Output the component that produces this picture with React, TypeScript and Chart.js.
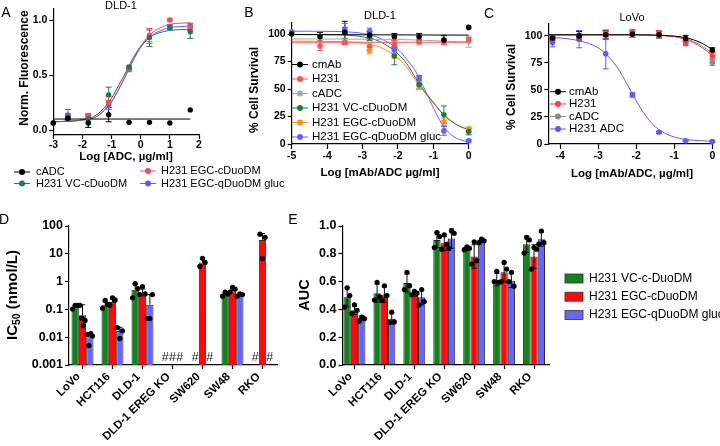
import React, { useEffect, useRef } from "react";
import { Chart, registerables } from "chart.js";
Chart.register(...registerables);

const W = 720;
const H = 446;
const FONT = "'Liberation Sans', Arial, Helvetica, sans-serif";

// ---------- colours ----------
const BLACK = "#000000";
const A_GREEN = "#1e7a52";
const A_RED = "#ff4a4a";
const A_BLUE = "#5c5cff";
const B_RED = "#ff5252";
const B_GRAY = "#a8a8a8";
const B_GREEN = "#1f7a4f";
const B_ORANGE = "#ff8c1a";
const B_BLUE = "#6262ff";
const C_RED = "#ff3d3d";
const C_GRAY = "#8a8a8a";
const C_BLUE = "#5c5cf2";
const D_GREEN = "#14821a";
const D_RED = "#ff0a0a";
const D_BLUE = "#6666ff";

// ---------- Panel A (DLD-1, Norm. Fluorescence) ----------
const A_X = [-3, -2.5, -1.8, -1.1, -0.4, 0.3, 1.0, 1.7];
const A_cADC = [0.064, 0.107, 0.064, 0.14, 0.07, 0.07, 0.064, 0.183];
const A_cADC_SD = [0, 0.01, 0.04, 0.065, 0, 0, 0, 0];
const A_VC = [0.065, 0.12, 0.1, 0.32, 0.573, 0.84, 0.933, 0.893];
const A_VC_SD = [0, 0.02, 0.03, 0.07, 0.01, 0.08, 0.02, 0.06];
const A_EGCc = [0.065, 0.12, 0.13, 0.253, 0.558, 0.863, 1.0, 0.933];
const A_EGCc_SD = [0, 0.03, 0.02, 0.05, 0.01, 0.06, 0.01, 0.03];
const A_EGCq = [0.065, 0.137, 0.122, 0.229, 0.549, 0.848, 0.94, 0.94];
const A_EGCq_SD = [0, 0.05, 0.02, 0.04, 0.01, 0.06, 0.02, 0.03];
const A_FIT_X = [-3, -2.5, -2, -1.5, -1, -0.75, -0.5, -0.25, 0, 0.25, 0.5, 1, 1.7];
const A_FIT_VC = [0.075, 0.08, 0.095, 0.14, 0.29, 0.41, 0.53, 0.66, 0.76, 0.83, 0.87, 0.905, 0.915];
const A_FIT_EGCc = [0.075, 0.08, 0.09, 0.125, 0.26, 0.38, 0.51, 0.645, 0.76, 0.85, 0.905, 0.96, 0.975];
const A_FIT_EGCq = [0.075, 0.08, 0.09, 0.125, 0.255, 0.37, 0.5, 0.635, 0.75, 0.83, 0.88, 0.93, 0.945];
const A_FLAT_X = [-3, 1.7];
const A_FIT_cADC = [0.1, 0.1];
const A_XTICKS = [-3, -2, -1, 0, 1, 2];
const A_YTICKS = [0, 0.5, 1.0];

// ---------- Panel B (DLD-1, % Cell Survival) ----------
const B_X = [-5, -4.2, -3.5, -2.8, -2.1, -1.4, -0.7, 0];
const B_cmAb = [100, 97.5, 101.5, 99, 97.5, 97.5, 94.5, 106];
const B_cmAb_SD = [0, 4, 10, 3, 3, 3, 4, 0];
const B_H231 = [null, 89, 92.4, 88.7, 91, 93, 92.4, 94.8];
const B_H231_SD = [0, 4, 2, 3, 3, 2, 2, 2];
const B_cADC = [null, null, null, null, null, null, 93, 93];
const B_cADC_SD = [0, 0, 0, 0, 0, 0, 3, 5];
const B_VC = [null, null, 101, 97, 80, 54, 26.6, 11.3];
const B_VC_SD = [0, 0, 5, 3, 8, 4, 8, 3];
const B_EGCc = [null, null, null, 85, 81, 53, 19.9, 13.5];
const B_EGCc_SD = [0, 0, 0, 3, 3, 3, 3, 2];
const B_EGCq = [102, null, 104.6, 102.4, 85.6, 60.3, 11.9, 2.8];
const B_EGCq_SD = [0, 0, 5, 3, 3, 2, 4, 1];
const B_FIT_X = [-5, -4.5, -4, -3.5, -3, -2.5, -2, -1.75, -1.5, -1.25, -1, -0.75, -0.5, -0.25, 0];
const B_FIT_VC = [99.5, 99.5, 99.4, 99, 97.5, 93, 82, 73, 60, 48, 38, 28, 21, 16, 13];
const B_FIT_EGCc = [93.5, 93.5, 93.3, 93, 91.5, 88, 78, 70, 58, 47, 37, 28, 21, 16, 13.5];
const B_FIT_EGCq = [102.5, 102.5, 102.4, 102, 100.5, 96, 86, 77, 66, 50, 33, 18, 8.5, 4, 2];
const B_FLAT_X = [-5, -2, 0];
const B_FIT_cmAb = [99.5, 99.2, 99];
const B_FIT_H231 = [92.5, 92.5, 92.5];
const B_FIT_cADC = [95.5, 95, 92.5];
const B_XTICKS = [-5, -4, -3, -2, -1, 0];
const B_YTICKS = [0, 25, 50, 75, 100];

// ---------- Panel C (LoVo) ----------
const C_X = [-4.2, -3.5, -2.8, -2.1, -1.4, -0.7, 0];
const C_cmAb = [98, 100, 101, 101.5, 101, 97.5, 87];
const C_cmAb_SD = [2, 4, 4, 3, 3, 3, 2];
const C_H231 = [98, 99.5, 102.5, 103, 102, 93, 81.6];
const C_H231_SD = [1, 2, 3, 3, 3, 2, 3];
const C_cADC = [98, 100, 101, 101.5, 101, 95, 75.5];
const C_cADC_SD = [1, 2, 3, 3, 3, 2, 3];
const C_ADC = [93.9, 97, 83.5, 45.4, 10.8, 3, 2.3];
const C_ADC_SD = [4, 8, 14, 2, 1, 0.5, 0.5];
const C_FIT_X = [-4.31, -4, -3.5, -3, -2.75, -2.5, -2.25, -2, -1.75, -1.5, -1.25, -1, -0.75, -0.5, -0.25, 0];
const C_FIT_ADC = [98.5, 98, 95.5, 89, 81.5, 71, 56, 40, 26, 16, 10, 6.5, 4.5, 3.5, 3, 2.5];
const C_FLAT_X = [-4.31, -2, -1.5, -1, -0.75, -0.5, -0.25, 0];
const C_FIT_cmAb = [101, 101, 100.7, 99.8, 98.6, 96.5, 92.8, 87.5];
const C_FIT_H231 = [101, 101, 100.5, 99.3, 97.2, 93.8, 88.8, 82];
const C_FIT_cADC = [101, 101, 100.6, 99.5, 97.8, 95, 90, 84];
const C_XTICKS = [-4, -3, -2, -1, 0];
const C_YTICKS = [0, 25, 50, 75, 100];

// ---------- Panels D and E (bar charts) ----------
const CELL_LINES = ["LoVo", "HCT116", "DLD-1", "DLD-1 EREG KO", "SW620", "SW48", "RKO"];
const D_VC = [0.12, 0.148, 0.51, null, null, 0.33, null];
const D_VC_SD = [0.02, 0.05, 0.3, 0, 0, 0.06, 0];
const D_VC_DOTS = [[0.103, 0.14, 0.14], [0.11, 0.21, 0.15], [0.26, 0.84, 0.56], null, null, [0.3, 0.42, 0.36], null];
const D_EGCc = [0.062, 0.185, 0.37, null, 4.9, 0.45, 31.6];
const D_EGCc_SD = [0.085, 0.05, 0.17, 0, 1.7, 0.1, 22];
const D_EGCc_DOTS = [[0.14, 0.049, 0.026, 0.04], [0.14, 0.26, 0.22], [0.34, 0.66, 0.36], null, [3.5, 6.9, 4.9], [0.42, 0.62, 0.54], [51, 6.9, 39]];
const D_EGCq = [0.01, 0.0167, 0.148, null, null, 0.32, null];
const D_EGCq_SD = [0.004, 0.006, 0.19, 0, 0, 0.04, 0];
const D_EGCq_DOTS = [[0.0125, 0.005, 0.0135, 0.011], [0.022, 0.009, 0.017], [0.047, 0.047, 0.34], null, null, [0.3, 0.36, 0.34], null];
const D_YTICKS = [0.001, 0.01, 0.1, 1, 10, 100];
const D_YLABELS = ["0.001", "0.01", "0.1", "1", "10", "100"];

const E_VC = [0.488, 0.517, 0.59, 0.9, 0.833, 0.614, 0.869];
const E_VC_SD = [0.07, 0.065, 0.065, 0.055, 0.01, 0.045, 0.06];
const E_VC_DOTS = [[0.417, 0.555, 0.5], [0.467, 0.595, 0.49], [0.543, 0.667, 0.57], [0.845, 0.952, 0.924], [0.83, 0.85, 0.84], [0.6, 0.674, 0.595], [0.805, 0.917, 0.9]];
const E_EGCc = [0.393, 0.507, 0.507, 0.876, 0.78, 0.667, 0.78];
const E_EGCc_SD = [0.03, 0.055, 0.012, 0.05, 0.085, 0.07, 0.085];
const E_EGCc_DOTS = [[0.37, 0.433, 0.393], [0.464, 0.57, 0.5], [0.505, 0.53, 0.517], [0.833, 0.936, 0.869], [0.726, 0.886, 0.75], [0.6, 0.738, 0.69], [0.69, 0.845, 0.833]];
const E_EGCq = [0.338, 0.333, 0.488, 0.91, 0.893, 0.607, 0.905];
const E_EGCq_SD = [0.015, 0.04, 0.055, 0.07, 0.012, 0.05, 0.05];
const E_EGCq_DOTS = [[0.314, 0.345, 0.333], [0.305, 0.38, 0.31], [0.433, 0.543, 0.457], [0.838, 0.964, 0.948], [0.88, 0.905, 0.893], [0.6, 0.667, 0.567], [0.869, 0.964, 0.88]];
const E_YTICKS = [0, 0.2, 0.4, 0.6, 0.8, 1.0];

// ---------- helpers ----------
const fnt = (size: number, bold = false) => `${bold ? "bold " : ""}${size}px ${FONT}`;

function yOf(ds: any, j: number) {
  const d = ds.data[j];
  if (d == null) return null;
  return typeof d === "object" ? d.y : d;
}

function drawErrors(chart: any, layer: string) {
  const ctx = chart.ctx;
  chart.data.datasets.forEach((ds: any, i: number) => {
    if (!ds.errs || (ds.errLayer || "under") !== layer) return;
    const meta = chart.getDatasetMeta(i);
    const ys = chart.scales[meta.yAxisID];
    const cap = ds.capW || 3;
    ctx.save();
    ctx.strokeStyle = ds.errColor || "#000";
    ctx.lineWidth = ds.errWidth || 1;
    meta.data.forEach((el: any, j: number) => {
      const v = yOf(ds, j);
      const e = ds.errs[j];
      if (v == null || !e) return;
      const x = el.x;
      const hi = ys.getPixelForValue(v + e);
      const lowVal = v - e;
      const lo = ds.errUpOnly || (ys.type === "logarithmic" && lowVal <= 0) ? ys.getPixelForValue(v) : ys.getPixelForValue(lowVal);
      ctx.beginPath();
      ctx.moveTo(x, hi);
      ctx.lineTo(x, lo);
      ctx.moveTo(x - cap, hi);
      ctx.lineTo(x + cap, hi);
      if (!ds.errUpOnly) {
        ctx.moveTo(x - cap, lo);
        ctx.lineTo(x + cap, lo);
      }
      ctx.stroke();
    });
    ctx.restore();
  });
}

function drawDots(chart: any) {
  const ctx = chart.ctx;
  chart.data.datasets.forEach((ds: any, i: number) => {
    if (!ds.dots) return;
    const meta = chart.getDatasetMeta(i);
    const ys = chart.scales[meta.yAxisID];
    ctx.save();
    ctx.fillStyle = "#000";
    meta.data.forEach((el: any, j: number) => {
      const arr = ds.dots[j];
      if (!arr) return;
      const n = arr.length;
      const spread = 5.2;
      arr.forEach((v: number, k: number) => {
        const off = n === 1 ? 0 : -spread / 2 + (spread * k) / (n - 1);
        ctx.beginPath();
        ctx.arc(el.x + off, ys.getPixelForValue(v), 2.6, 0, Math.PI * 2);
        ctx.fill();
      });
    });
    ctx.restore();
  });
}

function drawHashes(chart: any) {
  const ctx = chart.ctx;
  chart.data.datasets.forEach((ds: any, i: number) => {
    if (!ds.hashNull) return;
    const meta = chart.getDatasetMeta(i);
    ctx.save();
    ctx.fillStyle = "#222";
    ctx.font = fnt(12.5);
    ctx.textAlign = "center";
    ctx.textBaseline = "middle";
    meta.data.forEach((el: any, j: number) => {
      if (ds.data[j] != null) return;
      ctx.fillText("#", el.x, chart.chartArea.bottom - 7);
    });
    ctx.restore();
  });
}

const markPlugin = {
  id: "marks",
  beforeDatasetsDraw(chart: any) {
    drawErrors(chart, "under");
  },
  afterDatasetsDraw(chart: any) {
    drawErrors(chart, "over");
    drawDots(chart);
    drawHashes(chart);
  },
};

type TextItem = { t?: string; parts?: { t: string; font: string; dy?: number }[]; x: number; y: number; font?: string; rot?: number; align?: string; color?: string };

function makeTextPlugin(items: TextItem[]) {
  return {
    id: "texts",
    afterDraw(chart: any) {
      const ctx = chart.ctx;
      items.forEach((it) => {
        ctx.save();
        ctx.translate(it.x, it.y);
        if (it.rot) ctx.rotate(it.rot);
        const parts = it.parts || [{ t: it.t || "", font: it.font || fnt(12) }];
        let total = 0;
        const ws = parts.map((p) => {
          ctx.font = p.font;
          const w = ctx.measureText(p.t).width;
          total += w;
          return w;
        });
        let x = it.align === "left" ? 0 : -total / 2;
        ctx.textBaseline = "middle";
        ctx.textAlign = "left";
        ctx.fillStyle = it.color || "#000";
        parts.forEach((p, k) => {
          ctx.font = p.font;
          ctx.fillText(p.t, x, p.dy || 0);
          x += ws[k];
        });
        ctx.restore();
      });
    },
  };
}

type LegendItem = { label: string; color: string; line?: string; x: number; y: number; tx: number; kind: string; font: string };

function makeLegendPlugin(items: LegendItem[]) {
  return {
    id: "customLegend",
    afterDraw(chart: any) {
      const ctx = chart.ctx;
      items.forEach((it) => {
        ctx.save();
        if (it.kind === "box") {
          ctx.fillStyle = it.color;
          ctx.fillRect(it.x - 9, it.y - 4.5, 18, 9);
          ctx.strokeStyle = "#333";
          ctx.lineWidth = 0.8;
          ctx.strokeRect(it.x - 9, it.y - 4.5, 18, 9);
        } else {
          ctx.strokeStyle = it.line || it.color;
          ctx.lineWidth = 1;
          ctx.beginPath();
          ctx.moveTo(it.x - 8, it.y);
          ctx.lineTo(it.x + 8, it.y);
          ctx.stroke();
          ctx.fillStyle = it.color;
          ctx.beginPath();
          ctx.arc(it.x, it.y, 3, 0, Math.PI * 2);
          ctx.fill();
        }
        ctx.fillStyle = "#000";
        ctx.font = it.font;
        ctx.textAlign = "left";
        ctx.textBaseline = "middle";
        ctx.fillText(it.label, it.tx, it.y);
        ctx.restore();
      });
    },
  };
}

function padFor(l: number, t: number, r: number, b: number, yW: number, xH: number) {
  return { left: l - yW, top: t, right: W - r, bottom: H - b - xH };
}

function axisStyle(fontSize: number, tickLen: number, pad: number) {
  return {
    border: { display: true, color: "#000", width: 1.2 },
    grid: { display: true, drawOnChartArea: false, drawTicks: true, tickLength: tickLen, tickColor: "#000", tickWidth: 1.2 },
    ticks: { color: "#000", font: { family: FONT, size: fontSize, weight: "bold" }, padding: pad, autoSkip: false, maxRotation: 0 },
  };
}

function linAxis(min: number, max: number, ticks: number[], fmt: (v: number) => string, fontSize: number, tickLen: number, pad: number, fitKey: string, fitSize: number) {
  const st: any = axisStyle(fontSize, tickLen, pad);
  return {
    type: "linear",
    min,
    max,
    afterBuildTicks: (s: any) => {
      s.ticks = ticks.map((v) => ({ value: v }));
    },
    afterFit: (s: any) => {
      s[fitKey] = fitSize;
    },
    ...st,
    ticks: { ...st.ticks, callback: (v: any) => fmt(Number(v)) },
  };
}

function pts(xs: number[], ys: (number | null)[], sd: number[], color: string, r: number) {
  return {
    data: xs.map((x, i) => ({ x, y: ys[i] })),
    showLine: false,
    pointRadius: r,
    pointHoverRadius: r,
    pointBackgroundColor: color,
    pointBorderColor: color,
    pointBorderWidth: 0,
    errs: sd,
    errColor: color,
    errLayer: "under",
    capW: 3,
    clip: false,
  };
}

function fit(xs: number[], ys: number[], color: string) {
  return {
    data: xs.map((x, i) => ({ x, y: ys[i] })),
    showLine: true,
    pointRadius: 0,
    pointHoverRadius: 0,
    borderColor: color,
    borderWidth: 1,
    cubicInterpolationMode: "monotone",
    fill: false,
    clip: false,
  };
}

function baseOptions(padding: any, scales: any) {
  return {
    responsive: false,
    animation: false,
    events: [],
    layout: { padding },
    plugins: { legend: { display: false }, tooltip: { enabled: false } },
    scales,
  };
}

const fmtInt = (v: number) => String(v);
const fmt1 = (v: number) => v.toFixed(1);

// ---------- chart configs ----------
function configA() {
  const L = 53.3, T = 9, R = 199, B = 135;
  return {
    type: "scatter",
    data: {
      datasets: [
        pts(A_X, A_cADC, A_cADC_SD, BLACK, 2.7),
        pts(A_X, A_VC, A_VC_SD, A_GREEN, 2.7),
        pts(A_X, A_EGCc, A_EGCc_SD, A_RED, 2.7),
        pts(A_X, A_EGCq, A_EGCq_SD, A_BLUE, 2.7),
        fit(A_FLAT_X, A_FIT_cADC, BLACK),
        fit(A_FIT_X, A_FIT_VC, A_GREEN),
        fit(A_FIT_X, A_FIT_EGCc, A_RED),
        fit(A_FIT_X, A_FIT_EGCq, A_BLUE),
      ],
    },
    options: baseOptions(padFor(L, T, R, B, 40, 20), {
      x: linAxis(-3, 2, A_XTICKS, fmtInt, 10.5, 4, 0, "height", 20),
      y: linAxis(-0.045, 1.1, A_YTICKS, fmt1, 10.5, 4, 2, "width", 40),
    }),
    plugins: [
      markPlugin,
      makeTextPlugin([
        { t: "A", x: 6, y: 13, font: fnt(14) },
        { t: "DLD-1", x: 121, y: 6, font: fnt(11) },
        { t: "Log [ADC, µg/ml]", x: 126, y: 157, font: fnt(11.5, true) },
        { t: "Norm. Fluorescence", x: 25, y: 68, font: fnt(12, true), rot: -Math.PI / 2 },
      ]),
      makeLegendPlugin([
        { label: "cADC", color: BLACK, x: 22, y: 172, tx: 36, kind: "lineDot", font: fnt(11) },
        { label: "H231 VC-cDuoDM", color: A_GREEN, x: 22, y: 183.5, tx: 36, kind: "lineDot", font: fnt(11) },
        { label: "H231 EGC-cDuoDM", color: A_RED, x: 148, y: 171, tx: 161, kind: "lineDot", font: fnt(11) },
        { label: "H231 EGC-qDuoDM gluc", color: A_BLUE, x: 148, y: 183.5, tx: 161, kind: "lineDot", font: fnt(11) },
      ]),
    ],
  };
}

function configB() {
  const L = 291.7, T = 23, R = 468.7, B = 144;
  return {
    type: "scatter",
    data: {
      datasets: [
        pts(B_X, B_cmAb, B_cmAb_SD, BLACK, 2.8),
        pts(B_X, B_EGCq, B_EGCq_SD, B_BLUE, 2.8),
        pts(B_X, B_VC, B_VC_SD, B_GREEN, 2.8),
        pts(B_X, B_EGCc, B_EGCc_SD, B_ORANGE, 2.8),
        pts(B_X, B_H231, B_H231_SD, B_RED, 2.8),
        pts(B_X, B_cADC, B_cADC_SD, B_GRAY, 2.8),
        fit(B_FLAT_X, B_FIT_cmAb, BLACK),
        fit(B_FLAT_X, B_FIT_H231, B_RED),
        fit(B_FLAT_X, B_FIT_cADC, B_GRAY),
        fit(B_FIT_X, B_FIT_VC, B_GREEN),
        fit(B_FIT_X, B_FIT_EGCc, B_ORANGE),
        fit(B_FIT_X, B_FIT_EGCq, B_BLUE),
      ],
    },
    options: baseOptions(padFor(L, T, R, B, 40, 20), {
      x: linAxis(-5, 0, B_XTICKS, fmtInt, 10.5, 5, 1, "height", 20),
      y: linAxis(0, 110, B_YTICKS, fmtInt, 10.5, 4, 2, "width", 40),
    }),
    plugins: [
      markPlugin,
      makeTextPlugin([
        { t: "B", x: 249, y: 13.5, font: fnt(14) },
        { t: "DLD-1", x: 380, y: 16, font: fnt(11) },
        { t: "Log [mAb/ADC µg/ml]", x: 380, y: 173, font: fnt(11.5, true) },
        { t: "% Cell Survival", x: 255, y: 90, font: fnt(12, true), rot: -Math.PI / 2 },
      ]),
      makeLegendPlugin([
        { label: "cmAb", color: BLACK, x: 300, y: 64.5, tx: 312, kind: "lineDot", font: fnt(11.5) },
        { label: "H231", color: B_RED, x: 300, y: 79, tx: 312, kind: "lineDot", font: fnt(11.5) },
        { label: "cADC", color: B_GRAY, x: 300, y: 93.5, tx: 312, kind: "lineDot", font: fnt(11.5) },
        { label: "H231 VC-cDuoDM", color: B_GREEN, x: 300, y: 108, tx: 312, kind: "lineDot", font: fnt(11.5) },
        { label: "H231 EGC-cDuoDM", color: B_ORANGE, x: 300, y: 122.5, tx: 312, kind: "lineDot", font: fnt(11.5) },
        { label: "H231 EGC-qDuoDM gluc", color: B_BLUE, x: 300, y: 137, tx: 312, kind: "lineDot", font: fnt(11.5) },
      ]),
    ],
  };
}

function configC() {
  const L = 548.3, T = 24, R = 712.3, B = 144;
  return {
    type: "scatter",
    data: {
      datasets: [
        pts(C_X, C_cmAb, C_cmAb_SD, BLACK, 2.8),
        pts(C_X, C_H231, C_H231_SD, C_RED, 2.8),
        pts(C_X, C_cADC, C_cADC_SD, C_GRAY, 2.8),
        pts(C_X, C_ADC, C_ADC_SD, C_BLUE, 2.8),
        fit(C_FLAT_X, C_FIT_cmAb, BLACK),
        fit(C_FLAT_X, C_FIT_H231, C_RED),
        fit(C_FLAT_X, C_FIT_cADC, C_GRAY),
        fit(C_FIT_X, C_FIT_ADC, C_BLUE),
      ],
    },
    options: baseOptions(padFor(L, T, R, B, 40, 20), {
      x: linAxis(-4.31, 0, C_XTICKS, fmtInt, 10.5, 5, 1, "height", 20),
      y: linAxis(0, 111, C_YTICKS, fmtInt, 10.5, 4, 2, "width", 40),
    }),
    plugins: [
      markPlugin,
      makeTextPlugin([
        { t: "C", x: 489, y: 14, font: fnt(14) },
        { t: "LoVo", x: 632, y: 17.5, font: fnt(11) },
        { t: "Log [mAb/ADC, µg/ml]", x: 632, y: 174, font: fnt(11.5, true) },
        { t: "% Cell Survival", x: 512, y: 87, font: fnt(12, true), rot: -Math.PI / 2 },
      ]),
      makeLegendPlugin([
        { label: "cmAb", color: BLACK, x: 558, y: 91.7, tx: 569, kind: "lineDot", font: fnt(11.5) },
        { label: "H231", color: C_RED, x: 558, y: 104, tx: 569, kind: "lineDot", font: fnt(11.5) },
        { label: "cADC", color: C_GRAY, x: 558, y: 116.5, tx: 569, kind: "lineDot", font: fnt(11.5) },
        { label: "H231 ADC", color: C_BLUE, x: 558, y: 129, tx: 569, kind: "lineDot", font: fnt(11.5) },
      ]),
    ],
  };
}

function bars(vals: (number | null)[], sd: number[], dots: any[], color: string, upOnly: boolean, hash: boolean) {
  return {
    data: vals,
    backgroundColor: color,
    borderColor: "#2a2a2a",
    borderWidth: 1,
    borderSkipped: "start",
    categoryPercentage: 0.733,
    barPercentage: 1.0,
    errs: sd,
    errColor: "#111",
    errLayer: "over",
    errUpOnly: upOnly,
    capW: 2.6,
    dots,
    hashNull: hash,
  };
}

function catAxis(startValue: number, valueRange: number, labelOffset: number) {
  const st: any = axisStyle(11.5, 4, 1);
  return {
    type: "category",
    offset: true,
    afterBuildTicks: (s: any) => {
      s._startValue = startValue;
      s._valueRange = valueRange;
    },
    afterFit: (s: any) => {
      s.height = 80;
    },
    ...st,
    grid: { ...st.grid, offset: false },
    ticks: { ...st.ticks, minRotation: 45, maxRotation: 45, labelOffset },
  };
}

function configD() {
  const L = 69, T = 226, R = 277, B = 365;
  const yAx: any = axisStyle(12.5, 4, 2);
  return {
    type: "bar",
    data: {
      labels: CELL_LINES,
      datasets: [
        bars(D_VC, D_VC_SD, D_VC_DOTS, D_GREEN, true, true),
        bars(D_EGCc, D_EGCc_SD, D_EGCc_DOTS, D_RED, true, true),
        bars(D_EGCq, D_EGCq_SD, D_EGCq_DOTS, D_BLUE, true, true),
      ],
    },
    options: baseOptions(padFor(L, T, R, B, 50, 80), {
      x: catAxis(-0.45, 6.933, -4),
      y: {
        type: "logarithmic",
        min: 0.001,
        max: 100,
        afterBuildTicks: (s: any) => {
          s.ticks = D_YTICKS.map((v) => ({ value: v }));
        },
        afterFit: (s: any) => {
          s.width = 50;
        },
        ...yAx,
        ticks: { ...yAx.ticks, callback: (v: any) => D_YLABELS[D_YTICKS.indexOf(Number(v))] ?? "" },
      },
    }),
    plugins: [
      markPlugin,
      makeTextPlugin([
        { t: "D", x: 4, y: 220, font: fnt(14) },
        {
          parts: [
            { t: "IC", font: fnt(15, true) },
            { t: "50", font: fnt(10.5, true), dy: 4 },
            { t: " (nmol/L)", font: fnt(15, true) },
          ],
          x: 13,
          y: 295,
          rot: -Math.PI / 2,
        },
      ]),
    ],
  };
}

function configE() {
  const L = 342.5, T = 226, R = 549, B = 365;
  return {
    type: "bar",
    data: {
      labels: CELL_LINES,
      datasets: [
        bars(E_VC, E_VC_SD, E_VC_DOTS, D_GREEN, false, false),
        bars(E_EGCc, E_EGCc_SD, E_EGCc_DOTS, D_RED, false, false),
        bars(E_EGCq, E_EGCq_SD, E_EGCq_DOTS, D_BLUE, false, false),
      ],
    },
    options: baseOptions(padFor(L, T, R, B, 50, 80), {
      x: catAxis(-0.4, 6.9, -4),
      y: linAxis(0, 1.0, E_YTICKS, fmt1, 12.5, 4, 2, "width", 50),
    }),
    plugins: [
      markPlugin,
      makeTextPlugin([
        { t: "E", x: 293, y: 220, font: fnt(14) },
        { t: "AUC", x: 305, y: 295, font: fnt(14.5, true), rot: -Math.PI / 2 },
      ]),
      makeLegendPlugin([
        { label: "H231 VC-c-DuoDM", color: D_GREEN, x: 574, y: 278.5, tx: 589, kind: "box", font: fnt(12) },
        { label: "H231 EGC-cDuoDM", color: D_RED, x: 574, y: 296.7, tx: 589, kind: "box", font: fnt(12) },
        { label: "H231 EGC-qDuoDM gluc", color: D_BLUE, x: 574, y: 315, tx: 589, kind: "box", font: fnt(12) },
      ]),
    ],
  };
}

function Panel({ make }: { make: () => any }) {
  const ref = useRef<HTMLCanvasElement>(null);
  useEffect(() => {
    if (!ref.current) return;
    const chart = new Chart(ref.current, make() as any);
    return () => chart.destroy();
  }, []);
  return <canvas ref={ref} width={W} height={H} style={{ position: "absolute", left: 0, top: 0, width: W, height: H }} />;
}

export default function App() {
  return (
    <div style={{ position: "absolute", left: 0, top: 0, width: W, height: H, background: "#fff", overflow: "hidden" }}>
      <Panel make={configA} />
      <Panel make={configB} />
      <Panel make={configC} />
      <Panel make={configD} />
      <Panel make={configE} />
    </div>
  );
}
